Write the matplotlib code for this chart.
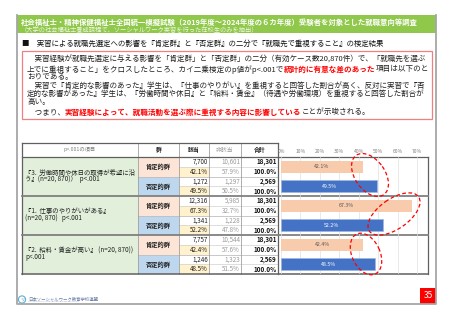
import matplotlib
matplotlib.use("Agg")
import matplotlib.pyplot as plt
from matplotlib.patches import Rectangle, Ellipse, Circle

plt.rcParams['font.family'] = ['Noto Sans CJK JP', 'DejaVu Sans']

# ---- data ----
item_lines = [
    ["『3.  労働時間や休日の取得が希望に沿", "う』(n=20, 870)）  p<.001"],
    ["『1.  仕事のやりがいがある』", "(n=20, 870)   p<.001"],
    ["『2.  給料・賃金が高い』 (n=20, 870))", "p<.001"],
]
groups = ["肯定的群", "否定的群"]
gaito = [[7700, 1272], [12316, 1341], [7757, 1246]]
higaito = [[10601, 1297], [5985, 1228], [10544, 1323]]
totals = [18301, 2569]
pct_gaito = [[42.1, 49.5], [67.3, 52.2], [42.4, 48.5]]
pct_higaito = [[57.9, 50.5], [32.7, 47.8], [57.6, 51.5]]
xticks = [0, 10, 20, 30, 40, 50, 60, 70]
header = ["p<.001の項目", "群", "該当", "非該当", "合計"]

title = "社会福祉士・精神保健福祉士全国統一模擬試験（2019年度～2024年度の６カ年度）受験者を対象とした就職意向等調査"
subtitle = "（大学の社会福祉士養成課程で、ソーシャルワーク実習を行った在校生のみを抽出）"
heading = "■　実習による就職先選定への影響を『肯定群』と『否定群』の二分で『就職先で重視すること』の検定結果"

BLK, RED = "#222222", "#ff0000"
summary = [
    [("　実習経験が就職先選定に与える影響を「肯定群」と「否定群」の二分（有効ケース数20,870件）で、「就職先を選ぶ", BLK, "normal")],
    [("上でに重視すること」をクロスしたところ、カイ二乗検定のp値がp<.001で", BLK, "normal"),
     ("統計的に有意な差のあった", RED, "bold"), ("項目は以下のと", BLK, "normal")],
    [("おりである。", BLK, "normal")],
    [("　実習で『肯定的な影響のあった』学生は、『仕事のやりがい』を重視すると回答した割合が高く、反対に実習で『否", BLK, "normal")],
    [("定的な影響があった』学生は、『労働時間や休日』と『給料・賃金』（待遇や労働環境）を重視すると回答した割合が", BLK, "normal")],
    [("高い。", BLK, "normal")],
    [("　つまり、", BLK, "normal"),
     ("実習経験によって、就職活動を選ぶ際に重視する内容に影響している", RED, "bold"),
     ("ことが示唆される。", BLK, "normal")],
]
summary_y = [60, 69.3, 77.3, 85.7, 94.3, 101.7, 112.3]
summary_full = [True, True, False, True, True, False, False]

# ---- layout (pixels) ----
W, H = 453, 320
XC = [22, 138, 179, 209, 241, 278]
X_END = 428
Y_TOP, Y0, BH = 143, 157, 39
C_POS, C_NEG = "#f8cbad", "#4472c4"

fig = plt.figure(figsize=(W / 100, H / 100), dpi=100)
fig.patch.set_facecolor("white")
ov = fig.add_axes([0, 0, 1, 1])
ov.set_xlim(0, W); ov.set_ylim(H, 0); ov.axis("off")
rend = fig.canvas.get_renderer()


def width_of(parts, size):
    w = 0
    for txt, col, wt in parts:
        t = ov.text(0, 0, txt, fontsize=size, fontweight=wt)
        w += t.get_window_extent(rend).width
        t.remove()
    return w


def fit(parts, target, base=6.0):
    return base * target / width_of(parts, base)


def runs(x, y, parts, size, **kw):
    for txt, col, wt in parts:
        t = ov.text(x, y, txt, fontsize=size, color=col, fontweight=wt, ha="left", va="center", **kw)
        x += t.get_window_extent(rend).width


def rect(x0, y0, x1, y1, fc, ec="none", lw=0, z=1):
    ov.add_patch(Rectangle((x0, y0), x1 - x0, y1 - y0, facecolor=fc, edgecolor=ec, lw=lw, zorder=z))


# slide frame + header band
rect(17, 15, 436, 33, "#8fc84a")
ov.plot([17, 17, 436, 436], [15, 304, 304, 15], color="#a6a6a6", lw=1.3, zorder=6)
runs(21, 22.5, [(title, "white", "bold")], fit([(title, "", "bold")], 399))
runs(21, 30, [(subtitle, "#eef6e0", "normal")], fit([(subtitle, "", "normal")], 241))
runs(22, 44.3, [(heading, "#111111", "normal")], fit([(heading, "", "normal")], 366))

# summary box
rect(22, 51, 432, 119, "none", ec="#f08080", lw=0.9)
fsizes = [fit(p, 403) for p, full in zip(summary, summary_full) if full]
fs_common = sum(fsizes) / len(fsizes)
for yy, parts, full in zip(summary_y, summary, summary_full):
    runs(27, yy, parts, fit(parts, 403) if full else fs_common)

# table header row
hx = [(XC[i] + XC[i + 1]) / 2 for i in range(5)]
hstyle = [("#7f7f7f", "normal", 3.8), ("#222222", "bold", 4.2), ("#222222", "bold", 4.2),
          ("#9a9a9a", "normal", 4.2), ("#222222", "bold", 4.2)]
for x, lab, (c, w, s) in zip(hx, header, hstyle):
    ov.text(x, (Y_TOP + Y0) / 2, lab, fontsize=s, color=c, fontweight=w, ha="center", va="center")

fs_item = fit([(item_lines[0][0], "", "normal")], 111)
fs_num = 4.5
sub = BH / 4
for b in range(3):
    yb = Y0 + b * BH
    rect(XC[0], yb, XC[1], yb + BH, "#e2efda")
    yc = yb + BH / 2
    ov.text(25, yc - 4, item_lines[b][0], fontsize=fs_item, color="#222222", va="center")
    ov.text(25, yc + 2.5, item_lines[b][1], fontsize=fs_item, color="#222222", va="center")
    for g in range(2):
        yg = yb + g * BH / 2
        rect(XC[1], yg, XC[2], yg + BH / 2, "#fce4d6" if g == 0 else "#bdd7ee")
        ov.text((XC[1] + XC[2]) / 2, yg + BH / 4, groups[g], fontsize=4.5, fontweight="bold",
                color="#222222", ha="center", va="center")
        rect(XC[2], yg + sub, XC[3], yg + 2 * sub, "#fff2cc")
        r1, r2 = yg + sub / 2, yg + 1.5 * sub
        ov.text(XC[3] - 1, r1, f"{gaito[b][g]:,}", fontsize=fs_num, color="#222222", ha="right", va="center")
        ov.text(XC[3] - 1, r2, f"{pct_gaito[b][g]:.1f}%", fontsize=fs_num, color="#222222", ha="right", va="center")
        ov.text(XC[4] - 1, r1, f"{higaito[b][g]:,}", fontsize=fs_num, color="#9a9a9a", ha="right", va="center")
        ov.text(XC[4] - 1, r2, f"{pct_higaito[b][g]:.1f}%", fontsize=fs_num, color="#9a9a9a", ha="right", va="center")
        ov.text(XC[5] - 1, r1, f"{totals[g]:,}", fontsize=fs_num, color="#111111", fontweight="bold", ha="right", va="center")
        ov.text(XC[5] - 1, r2, "100.0%", fontsize=fs_num, color="#111111", fontweight="bold", ha="right", va="center")
        ov.plot([XC[2], XC[5]], [yg + sub] * 2, color="#d0d0d0", lw=0.5, zorder=3)
    ov.plot([XC[1], XC[5]], [yb + BH / 2] * 2, color="#bfbfbf", lw=0.6, zorder=3)

# table lines
Y_BOT = Y0 + 3 * BH
for x in XC[1:5]:
    ov.plot([x, x], [Y_TOP, Y_BOT], color="#a0a0a0", lw=0.6, zorder=3)
ov.plot([XC[0], XC[0]], [Y_TOP, Y_BOT], color="#606060", lw=0.9, zorder=4)
ov.plot([XC[5], XC[5]], [Y_TOP, Y_BOT], color="#606060", lw=0.9, zorder=4)
ov.plot([X_END, X_END], [Y0, Y_BOT], color="#606060", lw=0.9, zorder=4)
ov.plot([XC[0], XC[5]], [Y_TOP, Y_TOP], color="#606060", lw=0.9, zorder=4)
ov.plot([XC[0], X_END], [Y0, Y0], color="#606060", lw=0.9, zorder=4)
for b in range(1, 3):
    ov.plot([XC[0], X_END], [Y0 + b * BH] * 2, color="#808080", lw=1.3, zorder=4)
ov.plot([XC[0], X_END], [Y_BOT, Y_BOT], color="#606060", lw=1.1, zorder=4)

# bar chart
ax = fig.add_axes([281 / W, 1 - Y_BOT / H, (X_END - 281) / W, (Y_BOT - Y0) / H])
ax.set_facecolor("none")
vals = [v for pair in pct_gaito for v in pair]
cols = [C_POS, C_NEG] * 3
ypos = list(range(len(vals)))
ax.barh(ypos, vals, height=0.6, color=cols, edgecolor=["none", "#9db6e0"] * 3, lw=0.5, zorder=2)
for y, v, c in zip(ypos, vals, cols):
    ax.text(v / 2, y, f"{v:.1f}%", fontsize=3.8, ha="center", va="center",
            color="white" if c == C_NEG else "#595959", zorder=3)
ax.set_xlim(0, 75.6)
ax.set_ylim(5.5, -0.5)
ax.set_xticks(xticks)
ax.set_xticklabels([f"{t}%" for t in xticks])
ax.xaxis.tick_top()
ax.tick_params(axis="x", length=0, labelsize=3.6, labelcolor="#7f7f7f", pad=2.5)
ax.set_yticks([])
ax.grid(axis="x", color="#e0e0e0", lw=0.5)
ax.set_axisbelow(True)
for s in ax.spines.values():
    s.set_visible(False)

# red dashed highlight ellipses
for (cx, cy, w, h, a) in [(370, 175, 48, 30, 55), (394, 214, 60, 30, -35), (366, 254, 44, 28, 65)]:
    ax.add_patch(Ellipse((cx, cy), w, h, angle=a, transform=ov.transData, clip_on=False,
                         fill=False, edgecolor=RED, lw=0.9, ls=(0, (3, 2)), zorder=5))

# footer
ov.add_patch(Circle((22, 299.5), 3.6, facecolor="white", edgecolor="#5bb0d8", lw=0.8, zorder=3))
ov.text(22, 299.8, "リ", fontsize=3, color="#3a6ea5", ha="center", va="center")
ov.text(28, 298.5, "日本ソーシャルワーク教育学校連盟", fontsize=3.2, color="#6a7fa8", va="center")
ov.text(28, 302, "JAPANESE ASSOCIATION FOR SOCIAL WORK EDUCATION", fontsize=1.4, color="#9aa8c0", va="center")
rect(420, 288, 436, 304, "#ff0000", z=5)
ov.text(428, 296, "35", fontsize=6, color="white", ha="center", va="center", zorder=6)

fig.savefig("out.png", dpi=100)
